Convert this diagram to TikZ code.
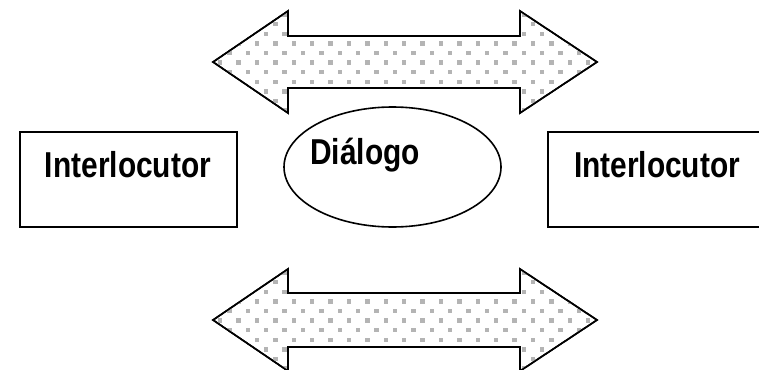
\documentclass[tikz,border=0pt]{standalone}
\usepackage{fontspec}
\setmainfont{Liberation Sans}[FakeStretch=0.83]
\usetikzlibrary{shapes.geometric}
\definecolor{dotgrey}{RGB}{180,180,180}
\tikzset{
  dblarrow/.style={draw=black, line width=1.6pt, line join=miter, fill=white},
  boxstyle/.style={draw=black, line width=2pt, fill=white},
  labeltext/.style={font=\fontsize{36}{42}\selectfont\bfseries, inner sep=0pt},
}
\begin{document}
\begin{tikzpicture}[x=1pt,y=-1pt]
\useasboundingbox (0,0) rectangle (759,369);
\begin{scope}
\clip (0,0) rectangle (759,369);
% top double arrow
\path[dblarrow] (213,62) -- (288,11) -- (288,36) -- (520,36) -- (520,11) -- (597,62) -- (520,113) -- (520,88) -- (288,88) -- (288,113) -- cycle;
\begin{scope}
\clip (213,62) -- (288,11) -- (288,36) -- (520,36) -- (520,11) -- (597,62) -- (520,113) -- (520,88) -- (288,88) -- (288,113) -- cycle;
\foreach \r in {0,...,12} {
  \pgfmathsetmacro{\yy}{5.0+9.6*\r}
  \pgfmathsetmacro{\off}{mod(\r,2)*9.2}
  \foreach \c in {0,...,22} {
    \fill[dotgrey] ({201.7+\off+18.4*\c-2.2},{\yy-2.2}) rectangle ++(4.4,4.4);
  }
}
\end{scope}
\path[draw=black, line width=1.6pt, line join=miter] (213,62) -- (288,11) -- (288,36) -- (520,36) -- (520,11) -- (597,62) -- (520,113) -- (520,88) -- (288,88) -- (288,113) -- cycle;
% bottom double arrow
\path[dblarrow] (213,320) -- (288,269) -- (288,293) -- (520,293) -- (520,269) -- (597,320) -- (520,371) -- (520,347) -- (288,347) -- (288,371) -- cycle;
\begin{scope}
\clip (213,320) -- (288,269) -- (288,293) -- (520,293) -- (520,269) -- (597,320) -- (520,371) -- (520,347) -- (288,347) -- (288,371) -- cycle;
\foreach \r in {0,...,12} {
  \pgfmathsetmacro{\yy}{263.0+9.6*\r}
  \pgfmathsetmacro{\off}{mod(\r,2)*9.2}
  \foreach \c in {0,...,22} {
    \fill[dotgrey] ({201.7+\off+18.4*\c-2.2},{\yy-2.2}) rectangle ++(4.4,4.4);
  }
}
\end{scope}
\path[draw=black, line width=1.6pt, line join=miter] (213,320) -- (288,269) -- (288,293) -- (520,293) -- (520,269) -- (597,320) -- (520,371) -- (520,347) -- (288,347) -- (288,371) -- cycle;
% boxes
\path[boxstyle] (20,132) rectangle (237,227);
\path[boxstyle] (548,132) rectangle (775,227);
% ellipse
\path[draw=black, line width=1.6pt, fill=white] (392.5,167) ellipse [x radius=108.5, y radius=60];
\end{scope}
\node[labeltext] (left) at (128,165) {Interlocutor};
\node[labeltext] (right) at (657,165) {Interlocutor};
\node[labeltext] (dialogo) at (365,155) {Diálogo};
\end{tikzpicture}
\end{document}
